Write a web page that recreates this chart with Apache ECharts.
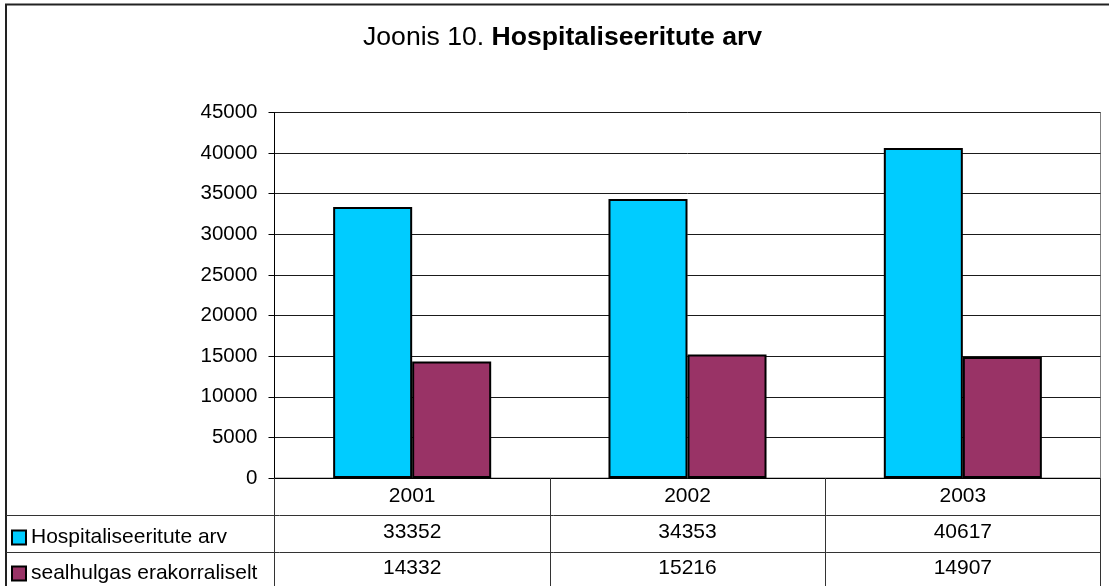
<!DOCTYPE html>
<html>
<head>
<meta charset="utf-8">
<script src="https://cdn.jsdelivr.net/npm/echarts@6/dist/echarts.min.js"></script>
<style>
html,body{margin:0;padding:0;background:#fff;}
#c{width:1109px;height:586px;}
</style>
</head>
<body>
<div id="c"></div>
<script>
var years = ['2001', '2002', '2003'];
var hospitalised = [33352, 34353, 40617];
var emergency = [14332, 15216, 14907];
var seriesNames = ['Hospitaliseeritute arv', 'sealhulgas erakorraliselt'];
var yTicks = { min: 0, max: 45000, interval: 5000 };

var chart = echarts.init(document.getElementById('c'), null, { renderer: 'canvas' });
var FONT = 'Liberation Sans, Arial, sans-serif';

function legendRow(name, top) {
  return {
    orient: 'horizontal',
    left: 11,
    top: top,
    padding: 0,
    itemWidth: 14,
    itemHeight: 14,
    icon: 'rect',
    selectedMode: false,
    textStyle: { fontFamily: FONT, fontSize: 21, color: '#000', lineHeight: 21 },
    itemStyle: { borderColor: '#000', borderWidth: 2 },
    data: [name]
  };
}

chart.setOption({
  backgroundColor: '#ffffff',
  animation: false,
  textStyle: { fontFamily: FONT, color: '#000' },
  title: {
    left: 363,
    top: 24,
    padding: 0,
    text: '{a|Joonis 10. }{b|Hospitaliseeritute arv}',
    textStyle: {
      fontWeight: 'normal',
      rich: {
        a: { fontFamily: FONT, fontSize: 26.6, fontWeight: 'normal', color: '#000' },
        b: { fontFamily: FONT, fontSize: 26.6, fontWeight: 'bold', color: '#000' }
      }
    }
  },
  legend: [legendRow(seriesNames[0], 527), legendRow(seriesNames[1], 563)],
  grid: {
    left: 274.5,
    right: 8.5,
    top: 112.5,
    bottom: 106.5,
    show: true,
    borderColor: '#808080',
    borderWidth: 1,
    containLabel: false
  },
  xAxis: {
    type: 'category',
    data: years,
    boundaryGap: true,
    axisLine: { lineStyle: { color: '#000', width: 1 } },
    axisTick: { show: true, length: 120, alignWithLabel: false, lineStyle: { color: '#333', width: 1 } },
    axisLabel: {
      margin: 0,
      fontFamily: FONT,
      fontSize: 21,
      lineHeight: 36,
      color: '#000',
      formatter: function (v, i) {
        return years[i] + '\n' + hospitalised[i] + '\n' + emergency[i];
      }
    },
    splitLine: { show: false }
  },
  yAxis: {
    type: 'value',
    min: yTicks.min,
    max: yTicks.max,
    interval: yTicks.interval,
    axisLine: { show: true, lineStyle: { color: '#000', width: 1 } },
    axisTick: { show: true, length: 6, lineStyle: { color: '#000' } },
    axisLabel: { margin: 17, fontFamily: FONT, fontSize: 20.5, color: '#000',
      formatter: function (v) { return String(v); } },
    splitLine: { show: true, lineStyle: { color: '#1a1a1a', width: 1 } }
  },
  series: [
    {
      name: seriesNames[0],
      type: 'bar',
      data: hospitalised,
      barGap: '0%',
      barCategoryGap: '42.6%',
      itemStyle: { color: '#00CCFF', borderColor: '#000', borderWidth: 2 }
    },
    {
      name: seriesNames[1],
      type: 'bar',
      data: emergency,
      barGap: '0%',
      barCategoryGap: '42.6%',
      itemStyle: { color: '#993366', borderColor: '#000', borderWidth: 2 }
    }
  ],
  graphic: [
    { type: 'rect', silent: true, shape: { x: 6, y: 4.5, width: 1300, height: 800 },
      style: { fill: 'none', stroke: '#222', lineWidth: 2 } },
    { type: 'line', silent: true, shape: { x1: 6, y1: 515.5, x2: 1100.5, y2: 515.5 },
      style: { stroke: '#333', lineWidth: 1 } },
    { type: 'line', silent: true, shape: { x1: 6, y1: 552.5, x2: 1100.5, y2: 552.5 },
      style: { stroke: '#333', lineWidth: 1 } }
  ]
});
</script>
</body>
</html>
